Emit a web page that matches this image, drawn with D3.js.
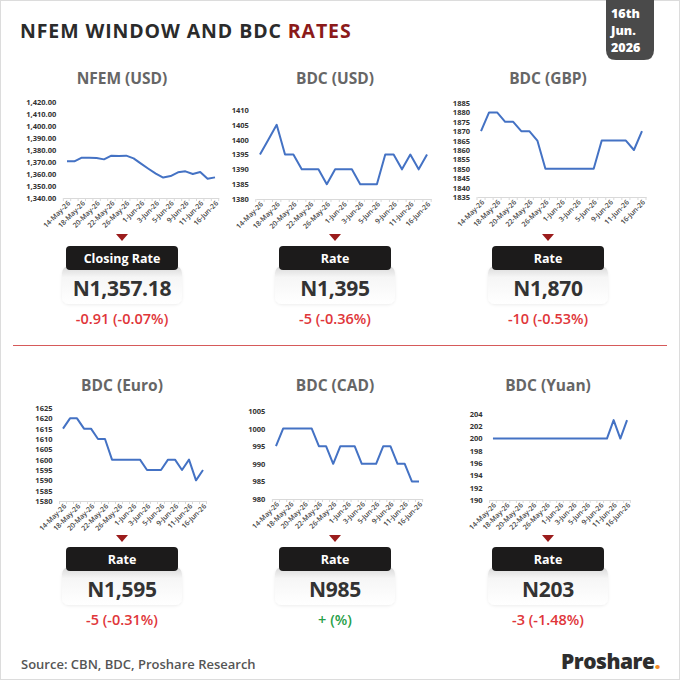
<!DOCTYPE html>
<html><head><meta charset="utf-8">
<script src="https://cdn.jsdelivr.net/npm/d3@7"></script>
<style>
html,body{margin:0;padding:0;background:#fff;}
svg{display:block;font-family:"Open Sans","Noto Sans",sans-serif;}
</style></head>
<body><svg id="c" width="680" height="680"></svg>
<script>
// ---------- data ----------
const dates = ["14-May-26","15-May-26","18-May-26","19-May-26","20-May-26","21-May-26","22-May-26","25-May-26","26-May-26","27-May-26","1-Jun-26","2-Jun-26","3-Jun-26","4-Jun-26","5-Jun-26","8-Jun-26","9-Jun-26","10-Jun-26","11-Jun-26","15-Jun-26","16-Jun-26"];
const nfemUSD = [1370.6,1370.6,1373.6,1373.6,1373.3,1372.2,1375.3,1375.0,1375.3,1373.0,1368.6,1364.4,1360.3,1357.0,1358.3,1361.4,1362.2,1360.0,1361.7,1356.0,1357.18];
const bdcUSD  = [1395,1400,1405,1395,1395,1390,1390,1390,1385,1390,1390,1390,1385,1385,1385,1395,1395,1390,1395,1390,1395];
const bdcGBP  = [1870,1880,1880,1875,1875,1870,1870,1865,1850,1850,1850,1850,1850,1850,1850,1865,1865,1865,1865,1860,1870];
const bdcEUR  = [1615,1620,1620,1615,1615,1610,1610,1600,1600,1600,1600,1600,1595,1595,1595,1600,1600,1595,1600,1590,1595];
const bdcCAD  = [995,1000,1000,1000,1000,1000,995,995,990,995,995,995,990,990,990,995,995,990,990,985,985];
const bdcCNY  = [200,200,200,200,200,200,200,200,200,200,200,200,200,200,200,200,200,200,203,200,203];

const nfemTicks = [1340,1350,1360,1370,1380,1390,1400,1410,1420];
const usdTicks  = [1380,1385,1390,1395,1400,1405,1410];
const gbpTicks  = [1835,1840,1845,1850,1855,1860,1865,1870,1875,1880,1885];
const eurTicks  = [1580,1585,1590,1595,1600,1605,1610,1615,1620,1625];
const cadTicks  = [980,985,990,995,1000,1005];
const cnyTicks  = [190,192,194,196,198,200,202,204];

const titles   = ["NFEM (USD)","BDC (USD)","BDC (GBP)","BDC (Euro)","BDC (CAD)","BDC (Yuan)"];
const boxLabels= ["Closing Rate","Rate","Rate","Rate","Rate","Rate"];
const rateText = ["N1,357.18","N1,395","N1,870","N1,595","N985","N203"];
const changeText=["-0.91 (-0.07%)","-5 (-0.36%)","-10 (-0.53%)","-5 (-0.31%)","+ (%)","-3 (-1.48%)"];
const changeUp = [false,false,false,false,true,false];
const dateBadge = ["16th","Jun.","2026"];

// ---------- layout ----------
const series = [nfemUSD,bdcUSD,bdcGBP,bdcEUR,bdcCAD,bdcCNY];
const ticks  = [nfemTicks,usdTicks,gbpTicks,eurTicks,cadTicks,cnyTicks];
const fmts   = [d3.format(",.2f"),d3.format("d"),d3.format("d"),d3.format("d"),d3.format("d"),d3.format("d")];
const panels = [
  {cx:122,x0:63.3,x1:218.7,yT:102,yB:198,row:0},
  {cx:335,x0:255.8,x1:431.2,yT:110,yB:199,row:0},
  {cx:548,x0:477,x1:646,yT:103,yB:197,row:0},
  {cx:122,x0:59.5,x1:206.5,yT:408,yB:501,row:1},
  {cx:335,x0:272.4,x1:422.6,yT:411,yB:499,row:1},
  {cx:548,x0:489.6,x1:630.4,yT:414,yB:500,row:1}
];
const rowTitleY=[84,391], rowBoxY=[246,547];

const svg=d3.select("#c");
const defs=svg.append("defs");
const g1=defs.append("linearGradient").attr("id","cardg").attr("x1",0).attr("x2",0).attr("y1",0).attr("y2",1);
g1.append("stop").attr("offset","0%").attr("stop-color","#d8d8d8");
g1.append("stop").attr("offset","30%").attr("stop-color","#f6f6f6");
g1.append("stop").attr("offset","100%").attr("stop-color","#ffffff");
const f=defs.append("filter").attr("id","sh").attr("x","-20%").attr("y","-20%").attr("width","140%").attr("height","160%");
f.append("feDropShadow").attr("dx",0).attr("dy",1).attr("stdDeviation",1.5).attr("flood-color","#000").attr("flood-opacity",0.07);

svg.append("rect").attr("x",0.5).attr("y",0.5).attr("width",679).attr("height",679).attr("fill","#fff").attr("stroke","#dcdcdc");

// Title
const t=svg.append("text").attr("x",20).attr("y",38).attr("font-size",19.5).attr("font-weight",700)
  .attr("fill","#2b2b2b").attr("letter-spacing",0.9);
t.append("tspan").text("NFEM WINDOW AND BDC ");
t.append("tspan").attr("fill","#8b1a1a").text("RATES");

// Date badge
svg.append("path").attr("d","M606,0 L654,0 L654,50 Q654,60 644,60 L616,60 Q606,60 606,50 Z").attr("fill","#4a4a4a");
dateBadge.forEach((s,i)=>{
  svg.append("text").attr("x",611).attr("y",17.5+i*17).attr("font-size",12.5).attr("font-weight",800)
    .attr("fill","#fff").text(s);
});

// Divider
svg.append("line").attr("x1",13).attr("x2",667).attr("y1",345.5).attr("y2",345.5).attr("stroke","#d65a5a").attr("stroke-width",1);

panels.forEach((p,i)=>{
  const g=svg.append("g");
  g.append("text").attr("x",p.cx).attr("y",rowTitleY[p.row]).attr("text-anchor","middle")
    .attr("font-size",15.5).attr("font-weight",700).attr("fill","#666").text(titles[i]);

  const x=d3.scaleBand().domain(dates).range([p.x0,p.x1]).padding(0);
  const tk=ticks[i];
  const y=d3.scaleLinear().domain([tk[0],tk[tk.length-1]]).range([p.yB,p.yT]);

  const ya=g.append("g").attr("transform",`translate(${p.x0-7},0)`)
    .call(d3.axisLeft(y).tickValues(tk).tickSize(0).tickPadding(0).tickFormat(fmts[i]));
  ya.select(".domain").remove();
  ya.selectAll("text").attr("font-size",7.5).attr("font-weight",700).attr("fill","#333").attr("font-family","'Open Sans',sans-serif");

  const xa=g.append("g").attr("transform",`translate(0,${p.yB})`)
    .call(d3.axisBottom(x).tickSize(0).tickPadding(0).tickFormat((d,j)=> j%2===0? d:""));
  xa.select(".domain").attr("stroke","#d9d9d9").attr("stroke-width",1);
  xa.selectAll(".tick text").attr("font-size",7).attr("font-weight",600).attr("fill","#444")
    .attr("text-anchor","end").attr("font-family","'Open Sans',sans-serif")
    .attr("transform","translate(2,4) rotate(-45)").attr("dy","0.35em").attr("y",0).attr("x",0);
  const bounds=dates.map(d=>x(d)).concat([p.x1]);
  g.selectAll(null).data(bounds).join("line")
    .attr("x1",d=>d).attr("x2",d=>d).attr("y1",p.yB).attr("y2",p.yB+3)
    .attr("stroke","#d9d9d9").attr("stroke-width",1);

  const line=d3.line().x((d,j)=>x(dates[j])+x.bandwidth()/2).y(d=>y(d));
  g.append("path").datum(series[i]).attr("d",line).attr("fill","none")
    .attr("stroke","#4472c4").attr("stroke-width",2).attr("stroke-linejoin","round");

  const by=rowBoxY[p.row];
  g.append("path").attr("d",`M${p.cx-6},${by-12} L${p.cx+6},${by-12} L${p.cx},${by-5} Z`).attr("fill","#9b1c1c");
  g.append("rect").attr("x",p.cx-60).attr("y",by+20).attr("width",120).attr("height",38).attr("rx",7)
    .attr("fill","url(#cardg)").attr("filter","url(#sh)");
  g.append("rect").attr("x",p.cx-56).attr("y",by).attr("width",112).attr("height",24).attr("rx",4).attr("fill","#1c1b1b");
  g.append("text").attr("x",p.cx).attr("y",by+16.5).attr("text-anchor","middle").attr("font-size",12.5)
    .attr("font-weight",700).attr("fill","#fff").text(boxLabels[i]);
  g.append("text").attr("x",p.cx).attr("y",by+49.5).attr("text-anchor","middle").attr("font-size",21)
    .attr("font-weight",700).attr("fill","#333").attr("letter-spacing",-0.3).text(rateText[i]);
  g.append("text").attr("x",p.cx).attr("y",by+78).attr("text-anchor","middle").attr("font-size",14.5)
    .attr("font-weight",600).attr("fill",changeUp[i]?"#27a048":"#e0363a").text(changeText[i]);
});

svg.append("text").attr("x",21).attr("y",669).attr("font-size",13).attr("font-weight",600).attr("fill","#555")
  .text("Source: CBN, BDC, Proshare Research");
const lg=svg.append("text").attr("x",660).attr("y",669).attr("text-anchor","end").attr("font-size",21)
  .attr("font-weight",800).attr("fill","#2e2e2e").attr("letter-spacing",-0.5);
lg.append("tspan").text("Proshare");
lg.append("tspan").attr("fill","#f08a24").text(".");
</script></body></html>
